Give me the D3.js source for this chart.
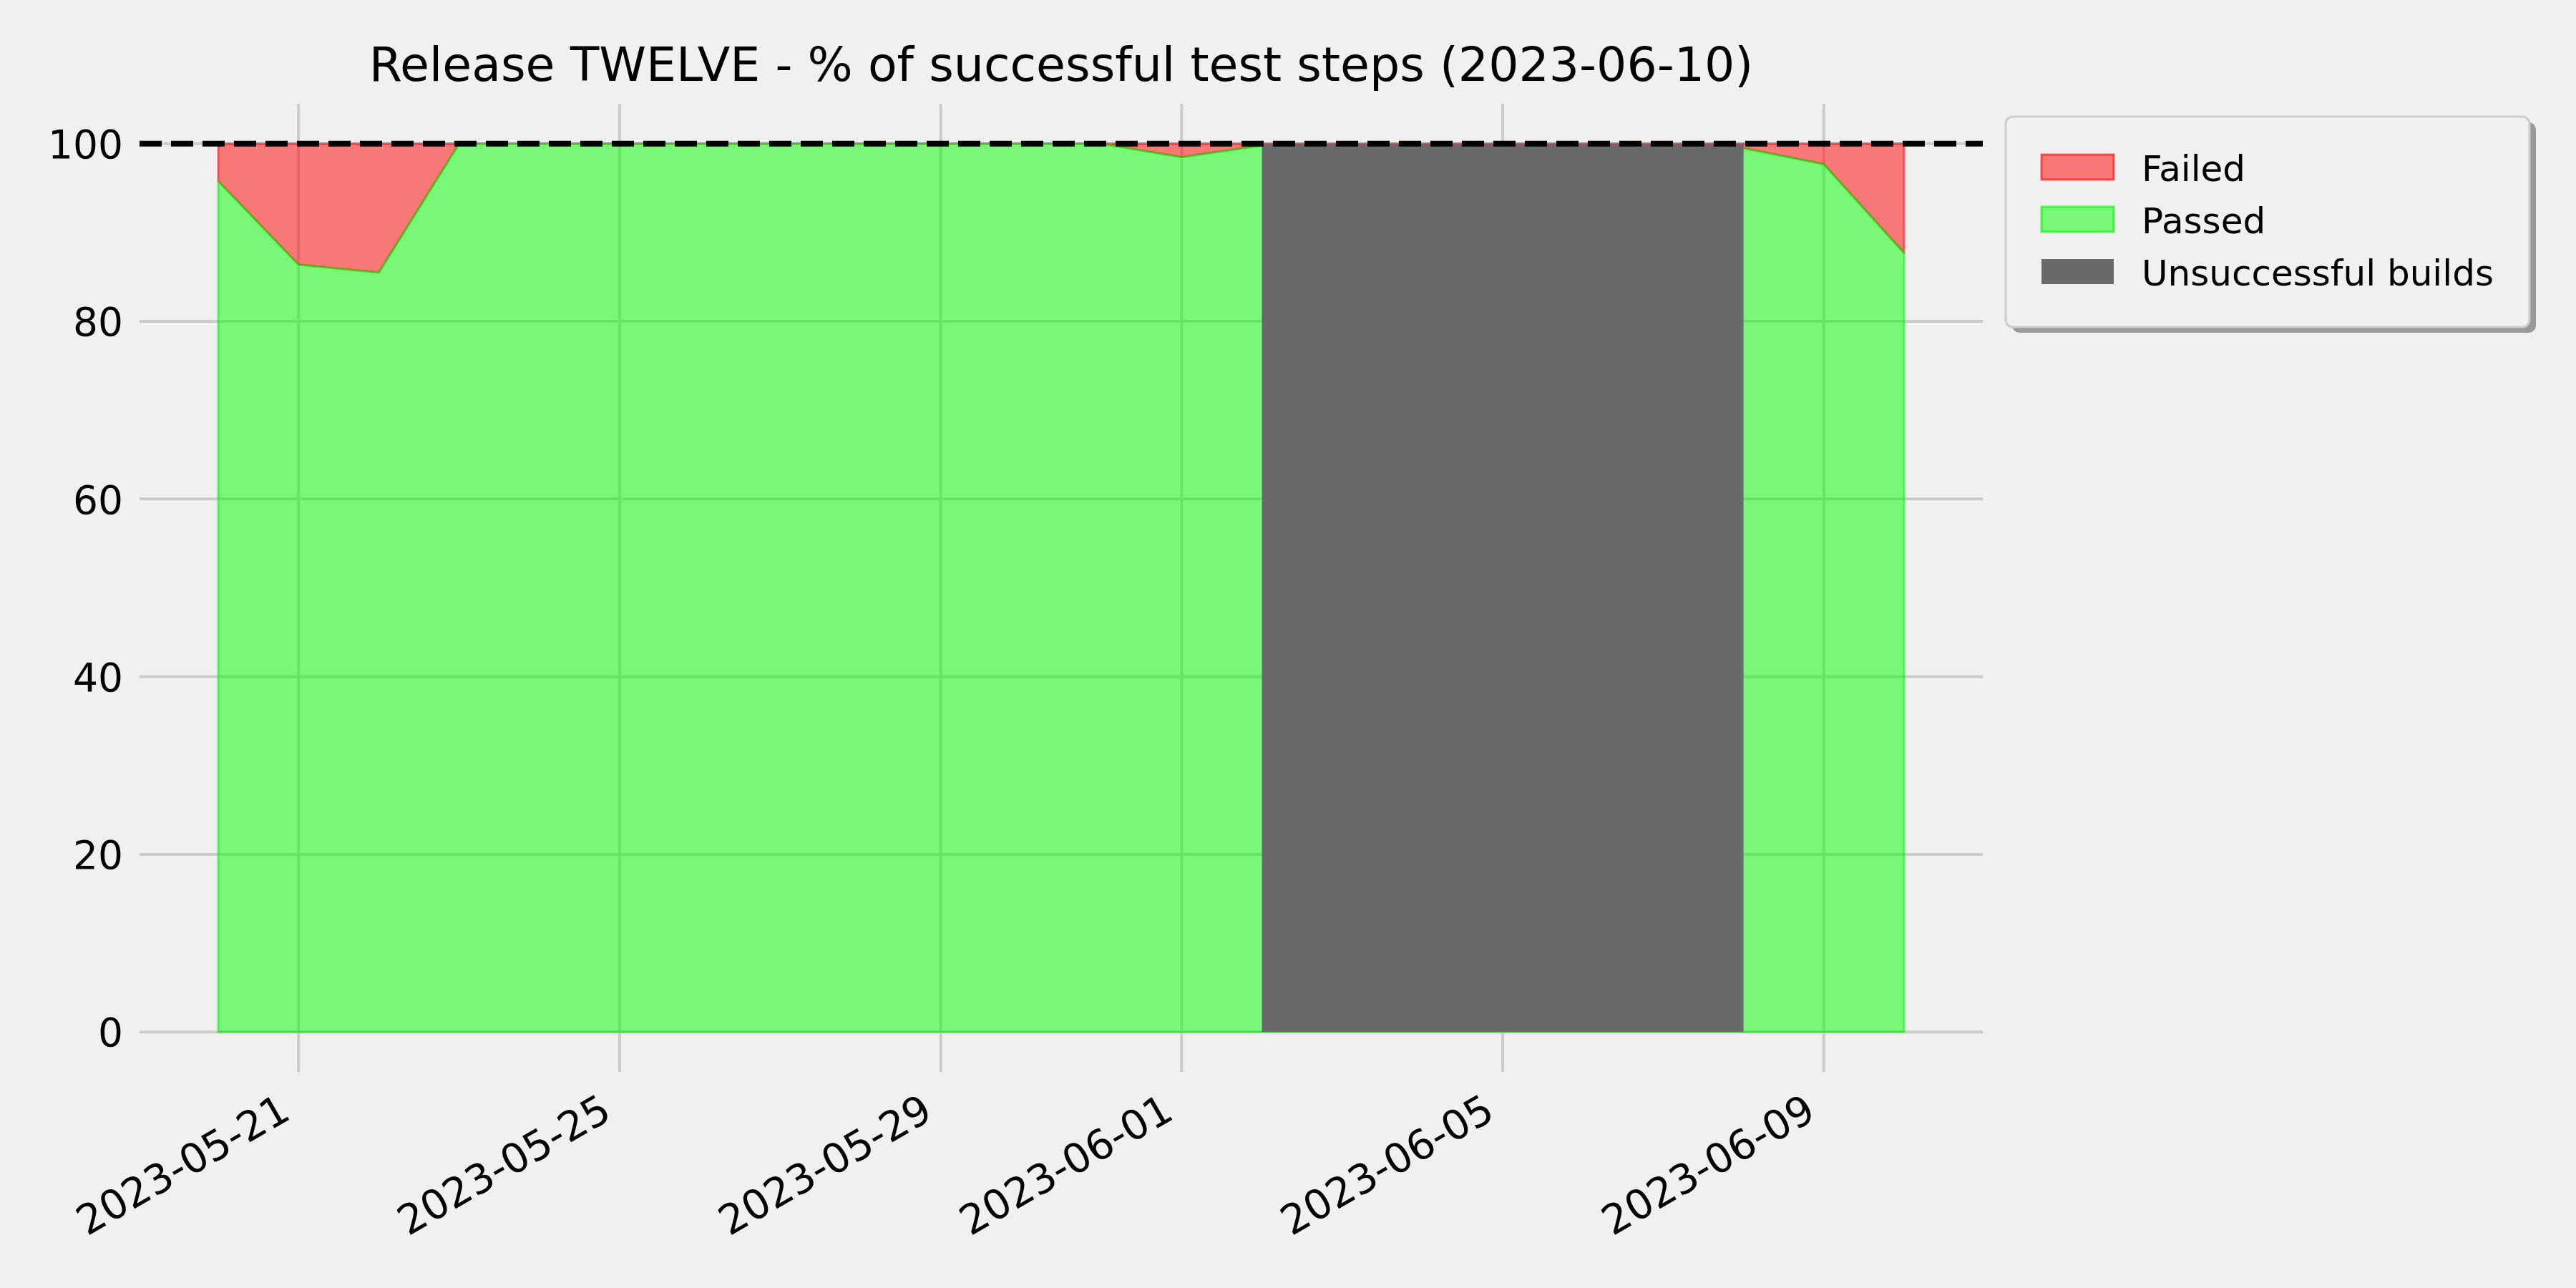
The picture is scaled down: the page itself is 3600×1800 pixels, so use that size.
<!DOCTYPE html>
<html>
<head>
<meta charset="utf-8">
<script src="https://cdn.jsdelivr.net/npm/d3@7"></script>
<style>
  html, body { margin: 0; padding: 0; background: #f0f0f0; }
  svg { display: block; font-family: "DejaVu Sans", sans-serif; }
</style>
</head>
<body>
<svg id="chart" width="3600" height="1800"></svg>
<script>
// ---- data ----
const chartTitle = "Release TWELVE - % of successful test steps (2023-06-10)";
const dates = ["2023-05-20","2023-05-21","2023-05-22","2023-05-23","2023-05-24","2023-05-25",
  "2023-05-26","2023-05-27","2023-05-28","2023-05-29","2023-05-30","2023-05-31",
  "2023-06-01","2023-06-02","2023-06-08","2023-06-09","2023-06-10"];
const passed = [95.8, 86.4, 85.5, 100, 100, 100, 100, 100, 100, 100, 100, 100, 98.5, 99.8, 99.5, 97.7, 87.7];
const failed = [4.2, 13.6, 14.5, 0, 0, 0, 0, 0, 0, 0, 0, 0, 1.5, 0.2, 0.5, 2.3, 12.3];
const unsuccessfulRange = ["2023-06-02", "2023-06-08"];
const targetLine = 100;
const xTickLabels = ["2023-05-21","2023-05-25","2023-05-29","2023-06-01","2023-06-05","2023-06-09"];
const yTickValues = [0, 20, 40, 60, 80, 100];
const legendLabels = ["Failed", "Passed", "Unsuccessful builds"];

// ---- setup ----
const parse = d3.utcParse("%Y-%m-%d");
const DAY = 86400000;
const svg = d3.select("#chart");
const plot = { left: 195, right: 2771, top: 145, bottom: 1498 };

const first = parse(dates[0]), last = parse(dates[dates.length - 1]);
const pad = 0.98 * DAY;
const x = d3.scaleUtc()
  .domain([new Date(first.getTime() - pad), new Date(last.getTime() + pad)])
  .range([plot.left, plot.right]);
const y = d3.scaleLinear().domain([-4.5, 104.5]).range([plot.bottom, plot.top]);

const rows = dates.map((d, i) => ({ date: parse(d), passed: passed[i], failed: failed[i] }));

svg.append("rect").attr("width", 3600).attr("height", 1800).attr("fill", "#f0f0f0");

// ---- grid ----
const grid = svg.append("g");
grid.selectAll("line.h").data(yTickValues).join("line")
  .attr("x1", plot.left).attr("x2", plot.right)
  .attr("y1", d => y(d)).attr("y2", d => y(d))
  .attr("stroke", "#cbcbcb").attr("stroke-width", 4);
grid.selectAll("line.v").data(xTickLabels).join("line")
  .attr("x1", d => x(parse(d))).attr("x2", d => x(parse(d)))
  .attr("y1", plot.top).attr("y2", plot.bottom)
  .attr("stroke", "#cbcbcb").attr("stroke-width", 4);

// ---- areas ----
const failedArea = d3.area()
  .x(d => x(d.date))
  .y0(d => y(d.passed))
  .y1(d => y(d.passed + d.failed));
const passedArea = d3.area()
  .x(d => x(d.date))
  .y0(() => y(0))
  .y1(d => y(d.passed));

svg.append("path").datum(rows).attr("d", d => failedArea(d) + "Z")
  .attr("fill", "#ff0000").attr("fill-opacity", 0.5)
  .attr("stroke", "#ff0000").attr("stroke-opacity", 0.5).attr("stroke-width", 3)
  .attr("stroke-linejoin", "round");
svg.append("path").datum(rows).attr("d", d => passedArea(d) + "Z")
  .attr("fill", "#00ff00").attr("fill-opacity", 0.5)
  .attr("stroke", "#00ee00").attr("stroke-opacity", 0.5).attr("stroke-width", 3)
  .attr("stroke-linejoin", "round");

// ---- unsuccessful builds ----
svg.append("rect")
  .attr("x", x(parse(unsuccessfulRange[0])))
  .attr("width", x(parse(unsuccessfulRange[1])) - x(parse(unsuccessfulRange[0])))
  .attr("y", y(100)).attr("height", y(0) - y(100))
  .attr("fill", "#696969");

// ---- target line ----
svg.append("line")
  .attr("x1", plot.left).attr("x2", plot.right)
  .attr("y1", y(targetLine)).attr("y2", y(targetLine))
  .attr("stroke", "#000").attr("stroke-width", 8)
  .attr("stroke-dasharray", "31,13");

// ---- axes labels ----
const yAxis = d3.axisLeft(y).tickValues(yTickValues).tickSize(0).tickPadding(0).tickFormat(d3.format("d"));
const yg = svg.append("g").attr("transform", `translate(${plot.left - 23},0)`).call(yAxis);
yg.select(".domain").remove();
yg.selectAll("text").attr("font-size", 55).attr("fill", "#000")
  .attr("font-family", "DejaVu Sans").attr("dy", "0.36em").attr("x", 0);

const xAxis = d3.axisBottom(x).tickValues(xTickLabels.map(parse)).tickSize(0).tickFormat(d3.utcFormat("%Y-%m-%d"));
const xg = svg.append("g").attr("transform", `translate(0,${plot.bottom})`).call(xAxis);
xg.select(".domain").remove();
xg.selectAll("text")
  .attr("font-size", 57).attr("fill", "#000").attr("font-family", "DejaVu Sans")
  .attr("text-anchor", "end").attr("dy", null).attr("y", null)
  .attr("transform", "translate(-9,64) rotate(-30)");

// ---- title ----
svg.append("text")
  .attr("x", (plot.left + plot.right) / 2).attr("y", 113)
  .attr("text-anchor", "middle").attr("font-size", 66.5).attr("fill", "#000")
  .text(chartTitle);

// ---- legend ----
const lg = svg.append("g");
lg.append("rect").attr("x", 2812).attr("y", 171).attr("width", 732).attr("height", 294)
  .attr("rx", 10).attr("fill", "#999999");
lg.append("rect").attr("x", 2803).attr("y", 163).attr("width", 732).attr("height", 294)
  .attr("rx", 10).attr("fill", "#f0f0f0").attr("stroke", "#cccccc").attr("stroke-width", 3);
const legendStyles = [
  { fill: "#ff0000", fo: 0.5, stroke: "#ff0000", so: 0.6 },
  { fill: "#00ff00", fo: 0.5, stroke: "#00ee00", so: 0.6 },
  { fill: "#696969", fo: 1, stroke: "none", so: 0 }
];
legendLabels.forEach((lab, i) => {
  const cy = 233.5 + i * 73;
  const st = legendStyles[i];
  lg.append("rect").attr("x", 2853).attr("y", cy - 17.5).attr("width", 101).attr("height", 35)
    .attr("fill", st.fill).attr("fill-opacity", st.fo)
    .attr("stroke", st.stroke).attr("stroke-opacity", st.so).attr("stroke-width", 3);
  lg.append("text").attr("x", 2993).attr("y", cy + 19.5)
    .attr("font-size", 50).attr("fill", "#000").text(lab);
});
</script>
</body>
</html>
